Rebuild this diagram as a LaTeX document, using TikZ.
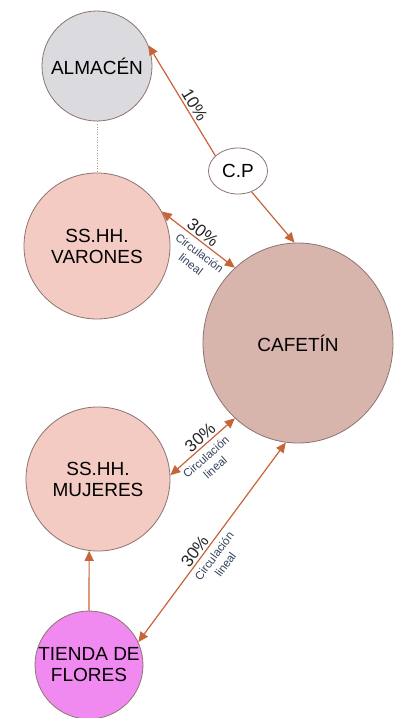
\documentclass[tikz,border=0pt]{standalone}
\usepackage{fontspec}
\setmainfont{Liberation Sans}
\usepackage{tikz}
\usetikzlibrary{shapes.geometric, arrows.meta, positioning}

\definecolor{flecha}{HTML}{C8643A}
\definecolor{borde}{HTML}{8C7470}
\definecolor{almacen}{HTML}{DADADF}
\definecolor{rosado}{HTML}{F3CBC3}
\definecolor{cafe}{HTML}{D7B5AD}
\definecolor{tienda}{HTML}{F08AF0}
\definecolor{nota}{HTML}{34445A}
\definecolor{linea}{HTML}{B8958C}

\begin{document}
\begin{tikzpicture}[x=1pt, y=-1pt,
        ambiente/.style={circle, draw=borde, line width=0.8pt, inner sep=0pt, align=center,
            font=\fontsize{19}{21}\selectfont},
        flujo/.style={draw=flecha, line width=1.2pt, -{Triangle[length=10pt,width=9pt]}},
        doble/.style={flujo, {Triangle[length=10pt,width=9pt]}-{Triangle[length=10pt,width=9pt]}},
        porc/.style={font=\fontsize{17}{18}\selectfont, text=black!85, sloped, above, inner sep=2pt},
        circ/.style={font=\fontsize{11.5}{14}\selectfont, text=nota, sloped, below=4pt, align=center, inner sep=1pt}]

        \fill[white] (0,0) rectangle (402,718);
        \useasboundingbox (0,0) rectangle (402,718);

        % ambientes
        \node[ambiente, fill=almacen, minimum size=110] (almacen) at (97,66) {ALMACÉN};
        \node[ambiente, fill=rosado, minimum size=146] (varones) at (97,246) {SS.HH.\\VARONES};
        \node[ambiente, fill=rosado, minimum size=144] (mujeres) at (98,479) {SS.HH.\\MUJERES};
        \node[ambiente, fill=tienda, minimum size=108] (tienda) at (89,665) {TIENDA DE\\FLORES};
        \node[ambiente, ellipse, fill=cafe, minimum width=190, minimum height=200] (cafetin) at (298,343) {CAFETÍN};
        \node[ambiente, ellipse, fill=white, minimum width=59, minimum height=46] (cp) at (238,171) {C.P};

        % relaciones
        \draw[dotted, color=linea, line width=0.6pt] (almacen.south) -- (varones.north);

        \draw[flujo] (cp.146) -- node[porc, pos=0.42] {10\%} (almacen.22);
        \draw[flujo] (cp.-57) -- (cafetin.92);

        \draw[doble] (varones.28) -- node[porc, pos=0.49] {30\%}
            node[circ, pos=0.6] {Circulación\\lineal} (cafetin.130);
        \draw[doble] (mujeres.3) -- node[porc, pos=0.55] {30\%}
            node[circ, pos=0.45] {Circulación\\lineal} (cafetin.230);
        \draw[doble] (tienda.25) -- node[porc, pos=0.43] {30\%}
            node[circ, pos=0.46] {Circulación\\lineal} (cafetin.263);
        \draw[flujo] (tienda.north) -- (mujeres.263);
\end{tikzpicture}
\end{document}
